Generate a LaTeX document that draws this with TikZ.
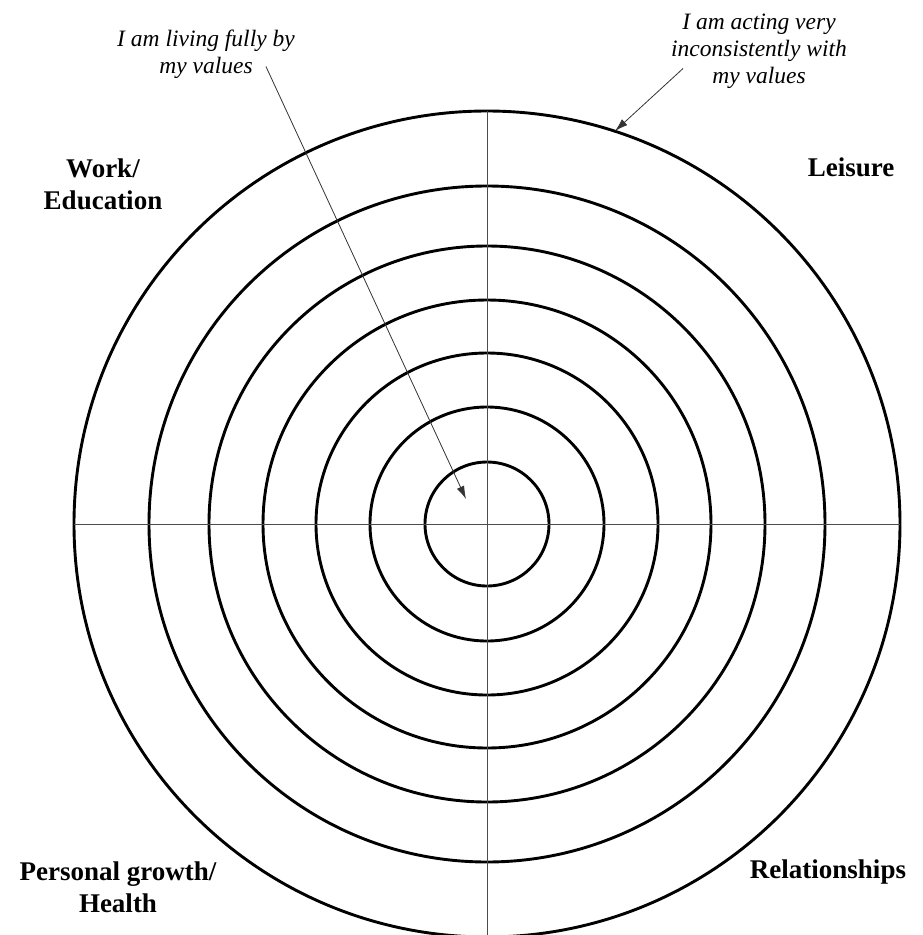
\documentclass[tikz,border=0pt]{standalone}
\usepackage{fontspec}
\setmainfont{Liberation Serif}
\usetikzlibrary{arrows.meta}

\begin{document}
\begin{tikzpicture}[
      x=1pt, y=-1pt,
      ring/.style={draw=black, line width=2.9pt},
      axis/.style={draw=black!70, line width=1pt},
      area/.style={font=\bfseries\fontsize{27}{32}\selectfont, align=center, inner sep=0pt},
      note/.style={font=\itshape\fontsize{23.5}{27}\selectfont, align=center, inner sep=0pt},
      pointer/.style={draw=black!80, line width=0.8pt, -{Latex[length=13pt,width=8pt]}}
    ]
    \useasboundingbox (0,0) rectangle (922,935);
    \coordinate (c) at (487,524);
    \foreach \r in {62,117,171,224,278,338,413} {
      \draw[ring] (c) circle[radius=\r];
    }
    \draw[axis] ([xshift=-413pt]c) -- ([xshift=413pt]c);
    \draw[axis] ([yshift=413pt]c) -- (487,935);
    % life areas
    \node[area] (work) at (103,184) {Work/\\Education};
    \node[area] (leisure) at (851,167) {Leisure};
    \node[area] (growth) at (118,887) {Personal growth/\\Health};
    \node[area] (relations) at (828,872) {Relationships};
    % notes
    \node[note] (living) at (206,54) {I am living fully by\\my values};
    \node[note] (acting) at (759,51) {I am acting very\\inconsistently with\\my values};
    \coordinate (bull) at (466,499);
    \coordinate (rim) at (615,131);
    \draw[pointer] ([shift={(-29,-12)}]living.south east) -- (bull);
    \draw[pointer] ([shift={(12,-20)}]acting.south west) -- (rim);
  \end{tikzpicture}
\end{document}
